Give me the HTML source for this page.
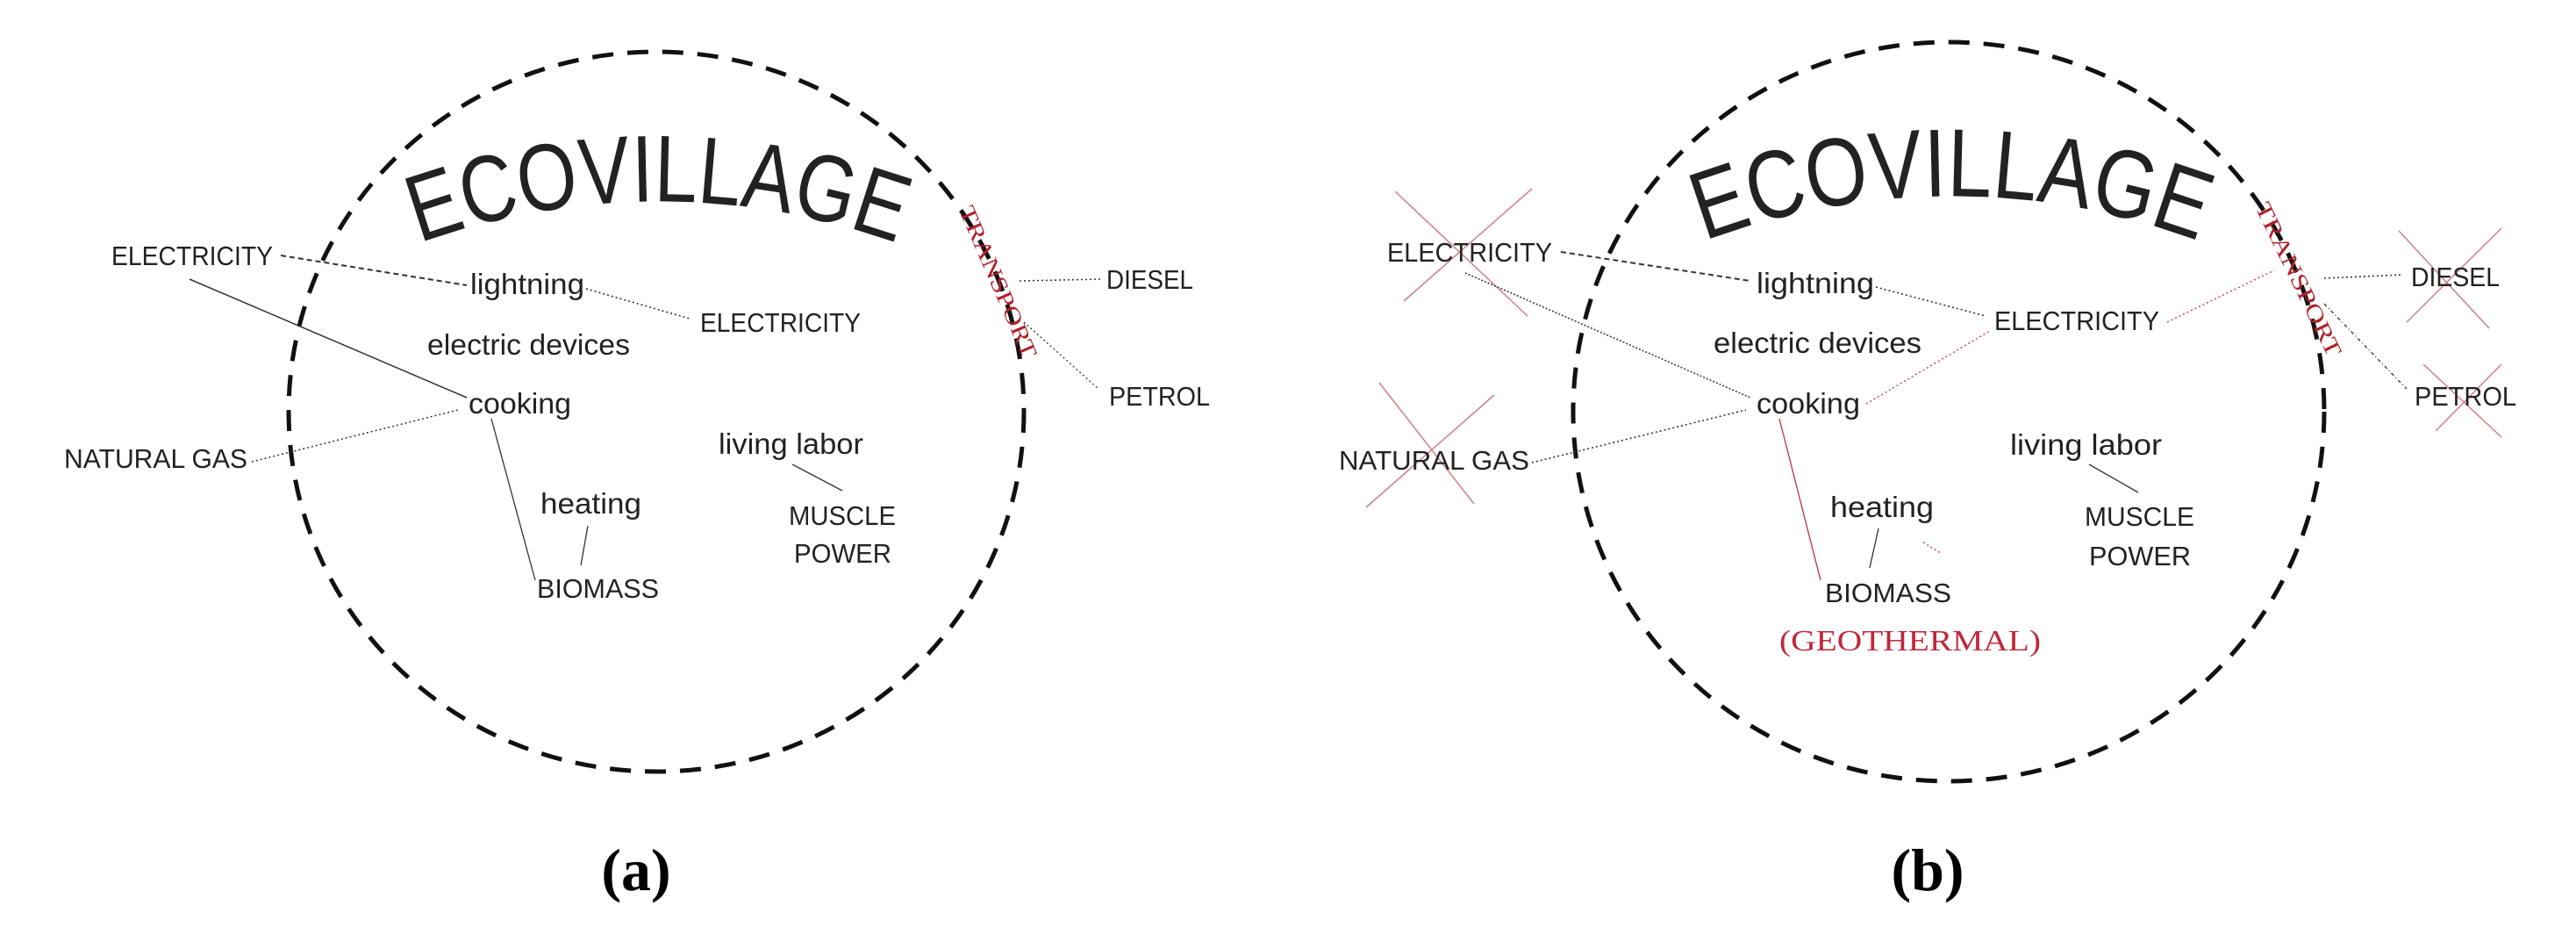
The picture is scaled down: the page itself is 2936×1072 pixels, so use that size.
<!DOCTYPE html>
<html><head><meta charset="utf-8"><style>
html,body{margin:0;padding:0;background:#fff;}
svg{display:block;}
text{font-family:"Liberation Sans",sans-serif;fill:#222;}
</style></head><body>
<svg width="2936" height="1072" viewBox="0 0 2936 1072" xmlns="http://www.w3.org/2000/svg">
<defs>
<path id="arcA" d="M440,292 A800,800 0 0 1 1060,292"/>
<path id="arcB" d="M1914,286 A800,800 0 0 1 2534,286"/>
</defs>

<!-- ========== PANEL A ========== -->
<ellipse cx="748" cy="469" rx="419" ry="410" fill="none" stroke="#111" stroke-width="5" stroke-dasharray="24 16"/>
<text font-size="108"><textPath href="#arcA" startOffset="50%" text-anchor="middle" textLength="555" lengthAdjust="spacingAndGlyphs">ECOVILLAGE</textPath></text>

<g stroke="#333" fill="none">
<line x1="320" y1="291" x2="532" y2="325" stroke-width="2" stroke-dasharray="6 4"/>
<line x1="668" y1="329" x2="786" y2="363" stroke-width="1.6" stroke-dasharray="2 3"/>
<line x1="216" y1="318" x2="532" y2="453" stroke-width="1.5"/>
<line x1="287" y1="526" x2="522" y2="467" stroke-width="1.5" stroke-dasharray="2 3"/>
<line x1="560" y1="477" x2="610" y2="661" stroke-width="1.3"/>
<line x1="670" y1="599" x2="662" y2="644" stroke-width="1.3"/>
<line x1="903" y1="529" x2="960" y2="559" stroke-width="1.3"/>
<line x1="1162" y1="320" x2="1256" y2="318" stroke-width="1.5" stroke-dasharray="2 3"/>
<line x1="1167" y1="367" x2="1252" y2="443" stroke-width="1.3" stroke-dasharray="2 3"/>
</g>

<text x="127" y="302" font-size="31" textLength="184" lengthAdjust="spacingAndGlyphs">ELECTRICITY</text>
<text x="536" y="335" font-size="33" textLength="130" lengthAdjust="spacingAndGlyphs">lightning</text>
<text x="798" y="378" font-size="31" textLength="183" lengthAdjust="spacingAndGlyphs">ELECTRICITY</text>
<text x="487" y="404" font-size="33" textLength="231" lengthAdjust="spacingAndGlyphs">electric devices</text>
<text x="534" y="471" font-size="33" textLength="117" lengthAdjust="spacingAndGlyphs">cooking</text>
<text x="73" y="533" font-size="31" textLength="209" lengthAdjust="spacingAndGlyphs">NATURAL GAS</text>
<text x="819" y="517" font-size="33" textLength="165" lengthAdjust="spacingAndGlyphs">living labor</text>
<text x="616" y="585" font-size="33" textLength="115" lengthAdjust="spacingAndGlyphs">heating</text>
<text x="899" y="598" font-size="31" textLength="122" lengthAdjust="spacingAndGlyphs">MUSCLE</text>
<text x="905" y="641" font-size="31" textLength="111" lengthAdjust="spacingAndGlyphs">POWER</text>
<text x="612" y="681" font-size="31" textLength="139" lengthAdjust="spacingAndGlyphs">BIOMASS</text>
<text x="1261" y="329" font-size="31" textLength="99" lengthAdjust="spacingAndGlyphs">DIESEL</text>
<text x="1264" y="462" font-size="31" textLength="115" lengthAdjust="spacingAndGlyphs">PETROL</text>
<text transform="translate(1138,321) rotate(66.6)" x="0" y="9" font-size="26" text-anchor="middle" textLength="186" lengthAdjust="spacingAndGlyphs" style="font-family:'Liberation Serif',serif;fill:#b0202a">TRANSPORT</text>

<text x="725" y="1014" font-size="68" font-weight="bold" text-anchor="middle" style="font-family:'Liberation Serif',serif;fill:#000">(a)</text>

<!-- ========== PANEL B ========== -->
<ellipse cx="2221" cy="469" rx="428" ry="421" fill="none" stroke="#111" stroke-width="5" stroke-dasharray="24 16"/>
<text font-size="110"><textPath href="#arcB" startOffset="50%" text-anchor="middle" textLength="575" lengthAdjust="spacingAndGlyphs">ECOVILLAGE</textPath></text>

<!-- red crosses -->
<g stroke="#c06070" stroke-width="1.5" opacity="0.8">
<line x1="1590" y1="218" x2="1741" y2="360"/>
<line x1="1746" y1="215" x2="1600" y2="343"/>
<line x1="1572" y1="436" x2="1680" y2="574"/>
<line x1="1703" y1="450" x2="1557" y2="578"/>
<line x1="2734" y1="263" x2="2837" y2="374"/>
<line x1="2851" y1="260" x2="2743" y2="367"/>
<line x1="2762" y1="415" x2="2851" y2="498"/>
<line x1="2851" y1="415" x2="2776" y2="491"/>
</g>

<g stroke="#333" fill="none">
<line x1="1779" y1="287" x2="1995" y2="320" stroke-width="2" stroke-dasharray="6 4"/>
<line x1="2138" y1="327" x2="2263" y2="360" stroke-width="1.6" stroke-dasharray="2 3"/>
<line x1="1670" y1="311" x2="1995" y2="453" stroke-width="1.5" stroke-dasharray="2 2"/>
<line x1="1746" y1="527" x2="1990" y2="467" stroke-width="1.6" stroke-dasharray="2 3"/>
<line x1="2141" y1="602" x2="2131" y2="647" stroke-width="1.3"/>
<line x1="2381" y1="529" x2="2437" y2="561" stroke-width="1.3"/>
<line x1="2649" y1="317" x2="2738" y2="313" stroke-width="1.6" stroke-dasharray="2 3"/>
<line x1="2649" y1="346" x2="2743" y2="443" stroke-width="1.3" stroke-dasharray="4 3 1 3"/>
</g>
<g stroke="#c04050" fill="none" stroke-width="1.4">
<line x1="2127" y1="460" x2="2268" y2="377" stroke-dasharray="2 3"/>
<line x1="2470" y1="367" x2="2592" y2="308" stroke-dasharray="2 3"/>
<line x1="2028" y1="477" x2="2075" y2="661"/>
<line x1="2192" y1="618" x2="2212" y2="630" stroke-dasharray="2 3"/>
</g>

<text x="1581" y="298" font-size="31" textLength="188" lengthAdjust="spacingAndGlyphs">ELECTRICITY</text>
<text x="2002" y="334" font-size="33" textLength="134" lengthAdjust="spacingAndGlyphs">lightning</text>
<text x="2273" y="376" font-size="31" textLength="188" lengthAdjust="spacingAndGlyphs">ELECTRICITY</text>
<text x="1953" y="402" font-size="33" textLength="237" lengthAdjust="spacingAndGlyphs">electric devices</text>
<text x="2002" y="471" font-size="33" textLength="118" lengthAdjust="spacingAndGlyphs">cooking</text>
<text x="1526" y="535" font-size="31" textLength="217" lengthAdjust="spacingAndGlyphs">NATURAL GAS</text>
<text x="2291" y="518" font-size="33" textLength="173" lengthAdjust="spacingAndGlyphs">living labor</text>
<text x="2086" y="589" font-size="33" textLength="118" lengthAdjust="spacingAndGlyphs">heating</text>
<text x="2376" y="599" font-size="31" textLength="125" lengthAdjust="spacingAndGlyphs">MUSCLE</text>
<text x="2381" y="644" font-size="31" textLength="116" lengthAdjust="spacingAndGlyphs">POWER</text>
<text x="2080" y="686" font-size="31" textLength="144" lengthAdjust="spacingAndGlyphs">BIOMASS</text>
<text x="2028" y="741" font-size="34" textLength="298" lengthAdjust="spacingAndGlyphs" style="font-family:'Liberation Serif',serif;fill:#c0283a">(GEOTHERMAL)</text>
<text x="2748" y="326" font-size="31" textLength="101" lengthAdjust="spacingAndGlyphs">DIESEL</text>
<text x="2752" y="462" font-size="31" textLength="116" lengthAdjust="spacingAndGlyphs">PETROL</text>
<text transform="translate(2620,318) rotate(64)" x="0" y="9" font-size="26" text-anchor="middle" textLength="192" lengthAdjust="spacingAndGlyphs" style="font-family:'Liberation Serif',serif;fill:#b0202a">TRANSPORT</text>

<text x="2197" y="1014" font-size="68" font-weight="bold" text-anchor="middle" style="font-family:'Liberation Serif',serif;fill:#000">(b)</text>
</svg>
</body></html>
